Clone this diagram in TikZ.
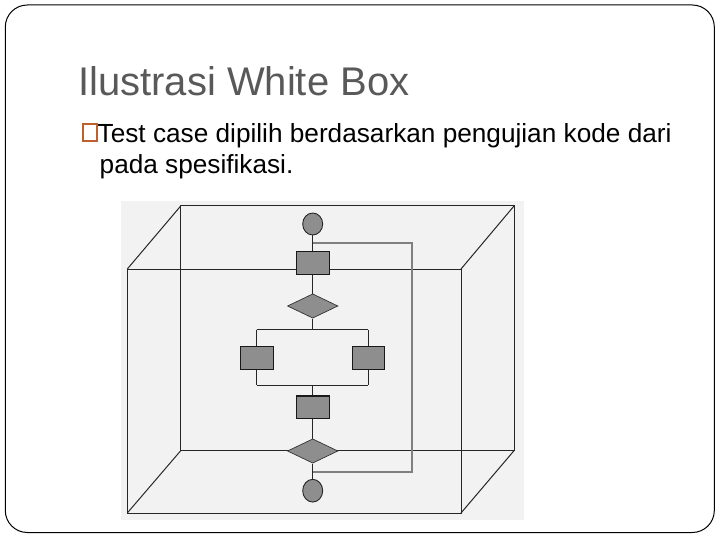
\documentclass[tikz,border=0pt]{standalone}
\usepackage{fontspec}
\setmainfont{Liberation Sans}
\usetikzlibrary{shapes.geometric}
\definecolor{titlegray}{HTML}{595959}
\definecolor{bulletc}{HTML}{BE5F2E}
\definecolor{panelbg}{HTML}{F2F2F2}
\definecolor{shapefill}{HTML}{8E8E8E}
\definecolor{loopc}{HTML}{808080}
\definecolor{cubec}{HTML}{262626}
\tikzset{
  cubeline/.style={draw=cubec, line width=1pt},
  flowline/.style={draw=cubec, line width=1pt},
  loopline/.style={draw=loopc, line width=1.7pt},
  termnode/.style={ellipse, draw=black!85, fill=shapefill, line width=0.9pt, minimum width=20pt, minimum height=22pt, inner sep=0pt},
  procnode/.style={rectangle, draw=black!90, fill=shapefill, line width=1.1pt, minimum width=33pt, minimum height=22.7pt, inner sep=0pt},
  decnode/.style={diamond, draw=black!80, fill=shapefill, line width=0.7pt, minimum width=50.5pt, minimum height=24.3pt, inner sep=0pt, aspect=2.08},
  titletext/.style={anchor=base west, inner sep=0pt, text=titlegray, font=\fontsize{40}{48}\selectfont},
  bodytext/.style={anchor=base west, inner sep=0pt, text=black, font=\fontsize{26.2}{31}\selectfont},
}
\begin{document}
\begin{tikzpicture}[x=1pt, y=-1pt]
\useasboundingbox (0,0) rectangle (720,540);
% slide frame
\draw[black, line width=1pt, rounded corners=22pt] (5.3,5) rectangle (714.3,532.5);
% text
\node[titletext] (title) at (78,96) {Ilustrasi White Box};
\node[draw=bulletc, line width=2.3pt, minimum width=13.5pt, minimum height=17pt, inner sep=0pt, anchor=south west] (bullet) at (82,142.5) {};
\node[bodytext] (line1) at (97.5,143) {Test case dipilih berdasarkan pengujian kode dari};
\node[bodytext] (line2) at (99.5,174) {pada spesifikasi.};
% panel background
\fill[panelbg] (121,201) rectangle (524,520);
% cube
\draw[cubeline] (180.7,206) rectangle (514,450.7);
\draw[cubeline] (127.3,269) rectangle (461,513);
\draw[cubeline] (127.3,269) -- (180.7,206);
\draw[cubeline] (461,269) -- (514,206);
\draw[cubeline] (127.3,513) -- (180.7,450.7);
\draw[cubeline] (461,513) -- (514,450.7);
% junction coordinates
\coordinate (split) at (312.7,329.7);
\coordinate (splitL) at (256.7,329.7);
\coordinate (splitR) at (368.3,329.7);
\coordinate (joinL) at (256.7,385);
\coordinate (joinR) at (368.3,385);
\coordinate (join) at (312.7,385);
\coordinate (loopstart) at (312.7,471.7);
\coordinate (loopcorner) at (411.7,471.7);
\coordinate (loopend) at (312.7,242.7);
% flowchart nodes
\node[termnode] (c1) at (312.7,224) {};
\node[procnode] (r1) at (312.7,263) {};
\node[decnode] (d1) at (312.7,306) {};
\node[procnode, minimum width=33.7pt, minimum height=23.3pt] (rl) at (257,357.7) {};
\node[procnode, minimum width=32.4pt, minimum height=23.3pt] (rr) at (368.5,357.7) {};
\node[procnode] (r3) at (312.7,407.3) {};
\node[decnode] (d2) at (312.7,451) {};
\node[termnode, minimum height=22.7pt] (c2) at (312.7,490.7) {};
% loop
\draw[loopline] (loopstart) -- (loopcorner) |- (loopend);
% connectors
\draw[flowline] (c1) -- (r1);
\draw[flowline] (r1) -- (d1);
\draw[flowline] (d1) -- (split);
\draw[flowline] (splitL) -- (splitR);
\draw[flowline] (splitL) -- (rl.north -| splitL);
\draw[flowline] (splitR) -- (rr.north -| splitR);
\draw[flowline] (rl.south -| joinL) -- (joinL);
\draw[flowline] (rr.south -| joinR) -- (joinR);
\draw[flowline] (joinL) -- (joinR);
\draw[flowline] (join) -- (r3);
\draw[flowline] (r3) -- (d2);
\draw[flowline] (d2) -- (c2);
\end{tikzpicture}
\end{document}
